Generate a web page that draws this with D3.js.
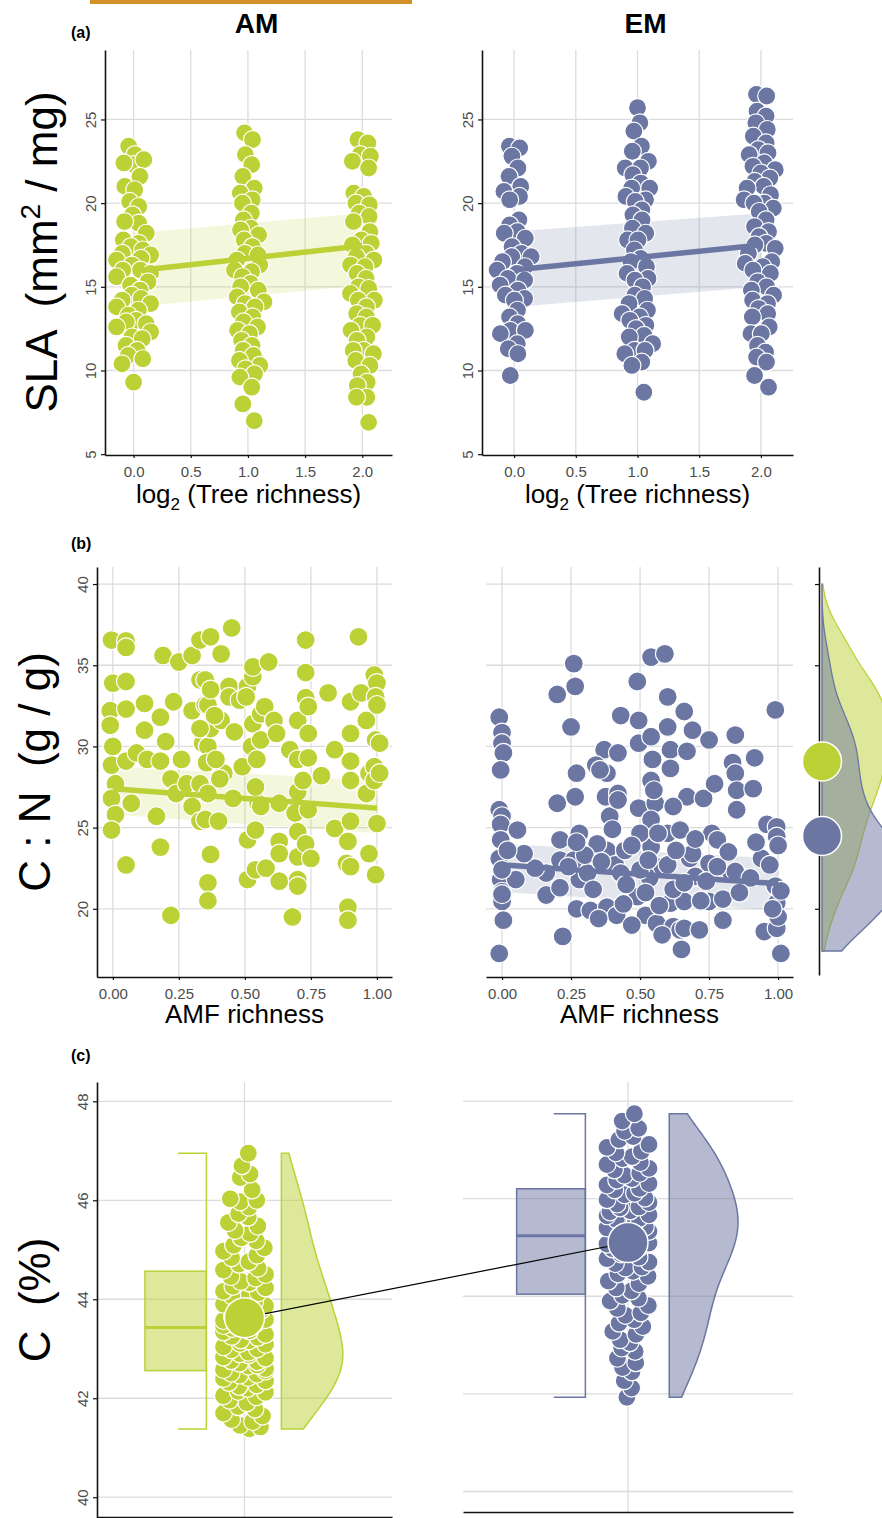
<!DOCTYPE html>
<html>
<head>
<meta charset="utf-8">
<title>AM / EM leaf traits</title>
<script src="https://cdn.jsdelivr.net/npm/d3@7"></script>
<style>
	body { margin: 0; background: #fff; }
	svg { display: block; font-family: 'Liberation Sans', Arial, sans-serif; }
</style>
</head>
<body>
<div id="chart"></div>
<script>
//	(a) SLA，按 log2(树种丰富度) 分三组
const richness = [0, 1, 2];
const slaAM = [
	[23.4, 22.9, 22.3, 22.6, 22.4, 21.6, 21.0, 20.8, 20.1, 19.8, 19.3, 18.8, 18.9, 18.2, 17.8, 17.6, 17.4, 17.2, 17.0, 16.9, 16.6, 16.7, 16.3, 16.0, 16.0, 15.8, 15.6, 15.3, 15.1, 14.8, 14.5, 14.3, 14.2, 14.0, 13.8, 13.6, 13.3, 13.0, 12.9, 12.8, 12.6, 12.3, 12.0, 11.9, 11.5, 11.2, 10.9, 10.7, 10.4, 9.3],
	[24.2, 23.8, 22.9, 22.3, 21.6, 20.9, 20.6, 20.2, 20.0, 19.4, 19.0, 18.5, 18.4, 18.1, 17.8, 17.4, 17.0, 16.9, 16.6, 16.3, 16.0, 15.9, 15.6, 15.2, 15.0, 14.8, 14.4, 14.1, 14.0, 13.8, 13.5, 13.2, 12.9, 12.6, 12.4, 12.2, 11.8, 11.5, 11.2, 10.9, 10.6, 10.3, 10.1, 9.8, 9.6, 9.0, 8.0, 7.0],
	[23.8, 23.6, 22.9, 22.8, 22.5, 22.1, 20.6, 20.4, 20.0, 19.9, 19.4, 19.2, 18.9, 18.3, 17.8, 17.6, 17.5, 17.0, 16.8, 16.6, 16.3, 16.2, 15.8, 15.5, 15.0, 14.9, 14.6, 14.2, 14.2, 13.8, 13.4, 13.2, 12.7, 12.7, 12.4, 12.0, 11.8, 11.2, 11.2, 11.0, 10.6, 10.3, 9.8, 9.3, 9.1, 8.4, 8.4, 6.9]
];
const slaEM = [
	[23.4, 23.3, 22.8, 22.1, 21.6, 21.0, 20.7, 20.4, 20.2, 19.0, 18.7, 18.3, 18.2, 17.9, 17.4, 17.0, 16.8, 16.8, 16.5, 16.2, 16.0, 15.8, 15.5, 15.4, 15.1, 14.8, 14.5, 14.3, 14.2, 13.6, 13.2, 12.8, 12.4, 12.4, 12.2, 11.6, 11.3, 11.0, 9.7],
	[25.7, 24.8, 24.3, 23.4, 23.1, 22.5, 22.1, 22.1, 21.7, 21.2, 20.9, 20.9, 20.4, 20.2, 20.1, 19.6, 19.3, 19.0, 18.5, 18.2, 17.8, 17.8, 17.2, 16.7, 16.5, 16.2, 15.8, 15.5, 15.4, 15.0, 14.5, 14.3, 14.0, 13.6, 13.4, 13.2, 13.0, 12.7, 12.5, 12.1, 12.0, 11.6, 11.2, 11.2, 11.0, 10.5, 10.3, 8.7],
	[26.5, 26.4, 25.5, 25.2, 24.8, 24.4, 24.0, 23.6, 23.2, 23.0, 22.9, 22.4, 22.2, 22.0, 21.8, 21.5, 21.3, 21.0, 20.9, 20.5, 20.2, 20.0, 20.0, 19.7, 19.5, 19.0, 18.6, 18.3, 18.0, 17.6, 17.5, 17.3, 17.0, 16.5, 16.4, 16.2, 16.0, 15.8, 15.3, 15.0, 14.8, 14.5, 14.2, 14.0, 13.7, 13.4, 13.2, 12.6, 12.2, 12.2, 11.5, 11.1, 10.8, 10.5, 9.7, 9.0]
];
//	模型预测线和置信带
const fitRich = [0, 2];
const slaFitAM = [15.95, 17.45];
const slaLoAM = [13.8, 15.1];
const slaHiAM = [18.2, 19.4];
const slaFitEM = [16.0, 17.5];
const slaLoEM = [13.8, 15.0];
const slaHiEM = [18.3, 19.4];

//	(b) C:N 对 AMF richness，[x, y]
const cnAM = [[-0.005, 36.55], [0.05, 36.5], [0.05, 36.1], [0.0, 33.9], [0.05, 34.0], [-0.01, 32.2], [0.05, 32.3], [-0.01, 31.3], [0.0, 30.0], [-0.005, 28.85], [0.05, 29.1], [0.01, 27.7], [-0.005, 26.8], [0.07, 26.5], [0.01, 25.8], [-0.005, 24.85], [0.05, 22.7], [0.09, 29.6], [0.12, 32.65], [0.12, 31.0], [0.13, 29.2], [0.165, 25.7], [0.18, 31.8], [0.19, 35.6], [0.2, 30.3], [0.18, 29.1], [0.18, 23.8], [0.22, 19.6], [0.23, 32.75], [0.22, 28.0], [0.24, 27.1], [0.25, 35.2], [0.26, 29.2], [0.28, 27.7], [0.3, 26.3], [0.3, 32.2], [0.3, 35.6], [0.33, 36.55], [0.37, 36.75], [0.33, 34.1], [0.35, 34.1], [0.35, 32.55], [0.36, 32.55], [0.34, 30.2], [0.36, 30.0], [0.355, 29.0], [0.33, 27.7], [0.36, 27.1], [0.33, 25.4], [0.35, 25.5], [0.4, 25.4], [0.37, 23.35], [0.36, 21.6], [0.36, 20.5], [0.37, 31.1], [0.37, 33.5], [0.41, 35.7], [0.41, 31.6], [0.42, 28.35], [0.44, 33.7], [0.44, 33.05], [0.45, 37.3], [0.46, 30.9], [0.48, 32.85], [0.49, 28.75], [0.51, 33.7], [0.51, 24.25], [0.51, 21.8], [0.525, 30.0], [0.53, 34.3], [0.53, 34.9], [0.54, 24.85], [0.55, 26.5], [0.54, 27.5], [0.53, 31.4], [0.545, 29.2], [0.56, 32.0], [0.54, 22.4], [0.58, 22.5], [0.575, 32.45], [0.56, 30.4], [0.56, 26.3], [0.59, 35.2], [0.61, 31.6], [0.63, 26.5], [0.63, 24.15], [0.63, 21.7], [0.63, 23.4], [0.67, 29.8], [0.68, 19.5], [0.7, 31.6], [0.7, 29.2], [0.7, 27.2], [0.69, 25.9], [0.7, 24.75], [0.7, 23.2], [0.7, 21.8], [0.7, 21.4], [0.72, 27.9], [0.73, 36.55], [0.73, 34.55], [0.73, 33.0], [0.74, 32.45], [0.74, 30.8], [0.74, 29.3], [0.73, 24.0], [0.74, 26.1], [0.75, 23.1], [0.79, 28.2], [0.815, 33.3], [0.84, 29.8], [0.84, 24.95], [0.885, 22.8], [0.89, 20.1], [0.89, 19.3], [0.9, 32.75], [0.9, 30.8], [0.9, 29.1], [0.9, 27.9], [0.9, 25.4], [0.89, 24.15], [0.9, 22.6], [0.93, 36.75], [0.94, 33.3], [0.96, 31.6], [0.97, 23.4], [0.96, 27.1], [0.97, 28.35], [0.99, 34.4], [1.0, 33.9], [0.995, 33.05], [1.0, 32.55], [0.995, 30.4], [1.01, 30.2], [0.99, 28.75], [0.99, 27.9], [1.01, 28.35], [1.0, 25.25], [0.995, 22.1], [0.385, 31.9], [0.33, 31.1], [0.39, 29.2], [0.405, 28.0], [0.455, 26.8], [0.505, 33.05], [0.62, 30.8]];
const cnEM = [[-0.01, 31.8], [0.0, 30.85], [0.0, 30.2], [0.005, 29.6], [-0.005, 28.55], [-0.01, 26.1], [0.0, 25.7], [-0.005, 25.2], [-0.005, 24.25], [-0.01, 23.1], [-0.005, 21.8], [0.0, 21.05], [0.0, 20.45], [0.005, 19.3], [-0.01, 17.25], [0.056, 24.85], [0.05, 21.8], [0.16, 22.2], [0.16, 20.85], [0.2, 33.2], [0.22, 18.3], [0.2, 26.5], [0.21, 24.25], [0.21, 23.0], [0.26, 35.1], [0.265, 33.7], [0.25, 31.2], [0.27, 28.35], [0.265, 26.9], [0.28, 24.65], [0.26, 23.0], [0.28, 21.8], [0.27, 20.0], [0.32, 19.9], [0.37, 29.8], [0.38, 28.35], [0.375, 26.9], [0.39, 25.7], [0.38, 23.6], [0.38, 20.1], [0.415, 19.6], [0.42, 29.6], [0.43, 31.9], [0.42, 27.1], [0.41, 22.7], [0.49, 34.0], [0.495, 31.6], [0.495, 30.2], [0.495, 26.2], [0.49, 20.75], [0.52, 19.6], [0.54, 35.5], [0.59, 35.7], [0.54, 30.6], [0.545, 29.2], [0.54, 27.9], [0.555, 26.5], [0.54, 25.5], [0.54, 23.8], [0.535, 21.9], [0.56, 19.1], [0.6, 33.05], [0.6, 31.2], [0.61, 29.8], [0.61, 28.65], [0.6, 24.65], [0.61, 20.35], [0.62, 18.9], [0.645, 18.7], [0.66, 32.15], [0.67, 29.7], [0.67, 26.9], [0.68, 23.1], [0.66, 20.45], [0.66, 18.8], [0.65, 17.5], [0.69, 31.0], [0.73, 26.8], [0.715, 18.7], [0.75, 30.4], [0.76, 24.65], [0.75, 20.45], [0.77, 27.7], [0.78, 24.25], [0.8, 19.3], [0.8, 20.6], [0.83, 22.2], [0.845, 30.7], [0.835, 29.0], [0.845, 28.35], [0.85, 27.3], [0.85, 26.1], [0.845, 22.3], [0.915, 29.3], [0.91, 27.4], [0.94, 23.1], [0.95, 18.6], [0.99, 32.25], [0.96, 25.2], [0.995, 25.05], [0.995, 24.45], [0.99, 21.4], [0.995, 20.35], [0.995, 18.8], [1.01, 17.25], [1.0, 19.5], [1.01, 21.1], [0.34, 28.85], [0.355, 28.55], [0.42, 26.7], [0.345, 24.0], [0.43, 22.2], [0.445, 23.6], [0.5, 24.65], [0.565, 24.65], [0.645, 24.85], [0.69, 23.4], [0.31, 22.2], [0.62, 26.3], [0.55, 27.3], [0.5, 22.4], [0.58, 22.6], [0.7, 22.0], [0.3, 23.3], [0.45, 21.5], [0.62, 21.2], [0.75, 22.8], [0.9, 21.9], [0.12, 22.5], [0.08, 23.4], [0.0, 22.4], [0.0, 20.9], [0.02, 23.6], [0.21, 21.3], [0.24, 22.6], [0.27, 24.1], [0.33, 21.2], [0.36, 22.9], [0.4, 24.9], [0.44, 20.3], [0.47, 23.9], [0.52, 21.0], [0.53, 23.0], [0.57, 20.2], [0.6, 22.7], [0.63, 23.6], [0.66, 21.6], [0.7, 24.3], [0.72, 20.5], [0.74, 21.7], [0.78, 22.6], [0.82, 23.5], [0.86, 21.0], [0.92, 24.1], [0.97, 22.7], [1.0, 23.9], [0.98, 20.0], [0.35, 19.4], [0.47, 19.0], [0.58, 18.4]];
const fitAmf = [0, 1];
const cnFitAM = [27.4, 26.2];
const cnLoAM = [25.8, 24.65];
const cnHiAM = [28.75, 27.9];
const cnFitEM = [22.7, 21.55];
const cnLoEM = [21.05, 19.9];
const cnHiEM = [24.0, 23.1];

//	(c) C (%)
const cAM = [41.38, 41.42, 41.45, 41.53, 41.57, 41.64, 41.7, 41.78, 41.83, 41.91, 41.96,
	42.03, 42.05, 42.12, 42.14, 42.2, 42.24, 42.27, 42.32, 42.35, 42.4, 42.42, 42.47, 42.49,
	42.51, 42.55, 42.58, 42.6, 42.65, 42.67, 42.71, 42.74, 42.76, 42.81, 42.83, 42.88, 42.9, 42.93, 42.98,
	43.0, 43.04, 43.09, 43.11, 43.16, 43.18, 43.23, 43.25, 43.29, 43.34, 43.36, 43.41, 43.45, 43.47,
	43.51, 43.57, 43.59, 43.65, 43.68, 43.72, 43.78, 43.81, 43.87, 43.9, 43.95, 43.99,
	44.04, 44.07, 44.13, 44.16, 44.23, 44.26, 44.33, 44.36, 44.43, 44.46,
	44.5, 44.59, 44.63, 44.71, 44.76, 44.84, 44.89, 44.97,
	45.04, 45.09, 45.18, 45.24, 45.33, 45.39, 45.48,
	45.55, 45.66, 45.73, 45.86, 45.97,
	46.0, 46.03, 46.21, 46.46,
	46.53, 46.7, 46.95];
const cEM = [41.93, 42.12, 42.27, 42.45,
	42.54, 42.64, 42.73, 42.87, 42.94,
	43.05, 43.11, 43.22, 43.28, 43.38, 43.45,
	43.52, 43.61, 43.66, 43.75, 43.81, 43.9, 43.96,
	44.02, 44.11, 44.17, 44.26, 44.31, 44.41, 44.46,
	44.51, 44.58, 44.6, 44.67, 44.7, 44.77, 44.8, 44.87, 44.9, 44.97,
	45.01, 45.07, 45.09, 45.15, 45.17, 45.23, 45.25, 45.31, 45.33, 45.4, 45.42, 45.48,
	45.51, 45.57, 45.59, 45.65, 45.67, 45.73, 45.75, 45.81, 45.83, 45.89, 45.92, 45.98,
	46.01, 46.08, 46.11, 46.18, 46.21, 46.28, 46.31, 46.38, 46.41, 46.48,
	46.52, 46.59, 46.62, 46.7, 46.74, 46.82, 46.86, 46.94, 46.97,
	47.05, 47.11, 47.21, 47.27, 47.38, 47.44,
	47.59, 47.74];

const COL = { AM: '#bbd136', EM: '#6b76a2' };
const GRID = '#dcdcdc';
const TICK_TEXT = '#4d4d4d';

const svg = d3.select('#chart').append('svg')
	.attr('width', 882)
	.attr('height', 1518);

//	网格线
const drawGrid = (g, x, y, xTicks, yTicks) => {
	const [x0, x1] = x.range();
	const [y0, y1] = y.range();
	g.append('g').selectAll('line')
		.data(xTicks)
		.enter()
		.append('line')
		.attr('x1', d => x(d)).attr('x2', d => x(d))
		.attr('y1', y0).attr('y2', y1)
		.attr('stroke', GRID).attr('stroke-width', 1.3);
	g.append('g').selectAll('line')
		.data(yTicks)
		.enter()
		.append('line')
		.attr('x1', x0).attr('x2', x1)
		.attr('y1', d => y(d)).attr('y2', d => y(d))
		.attr('stroke', GRID).attr('stroke-width', 1.3);
};

const styleAxis = (ax) => {
	ax.attr('font-size', 15).attr('font-family', null);
	ax.select('.domain').attr('stroke', '#111').attr('stroke-width', 1.6);
	ax.selectAll('.tick line').attr('stroke', '#111').attr('stroke-width', 1.2);
	ax.selectAll('.tick text').attr('fill', TICK_TEXT);
};

//	左侧 y 轴，刻度文字竖排
const drawAxisLeft = (g, x0, y, ticks, withText) => {
	const ax = g.append('g')
		.attr('transform', `translate(${x0},0)`)
		.call(d3.axisLeft(y).tickValues(ticks).tickSizeInner(4).tickSizeOuter(0)
			.tickFormat(withText ? d3.format('d') : ''));
	styleAxis(ax);
	ax.selectAll('.tick text')
		.attr('x', 0).attr('y', -9).attr('dy', 0)
		.attr('transform', 'rotate(-90)')
		.style('text-anchor', 'middle');
};

const drawAxisBottom = (g, y0, x, ticks, fmt) => {
	const ax = g.append('g')
		.attr('transform', `translate(0,${y0})`)
		.call(d3.axisBottom(x).tickValues(ticks).tickSizeInner(3).tickSizeOuter(0).tickPadding(8)
			.tickFormat(fmt ? d3.format(fmt) : ''));
	styleAxis(ax);
};

//	置信带
const drawBand = (g, x, y, xs, lo, hi, color) => {
	g.append('path')
		.datum(xs.map((v, i) => ({ x: v, lo: lo[i], hi: hi[i] })))
		.attr('d', d3.area().x(d => x(d.x)).y0(d => y(d.lo)).y1(d => y(d.hi)))
		.attr('fill', color)
		.attr('fill-opacity', 0.18);
};

//	拟合线
const drawFitLine = (g, x, y, xs, fit, color) => {
	g.append('path')
		.datum(xs.map((v, i) => ({ x: v, fit: fit[i] })))
		.attr('d', d3.line().x(d => x(d.x)).y(d => y(d.fit)))
		.attr('stroke', color)
		.attr('stroke-width', 5.5)
		.attr('fill', 'none');
};

const drawDots = (g, nodes, color, r) => {
	g.append('g').selectAll('circle')
		.data(nodes)
		.enter()
		.append('circle')
		.attr('cx', d => d.cx)
		.attr('cy', d => d.cy)
		.attr('r', r)
		.attr('fill', color)
		.attr('stroke', '#fff')
		.attr('stroke-width', 1.2);
};

//	用力导向布局在一列中把点散开（代替随机抖动）
const jitter = (values, y, cx, spread, rc) => {
	const nodes = values.map((v, i) => ({ v, x: cx + (i % 2 ? 1 : -1) * (i % 7) * 2.4, y: y(v) }));
	const sim = d3.forceSimulation(nodes)
		.force('x', d3.forceX(cx).strength(0.01))
		.force('y', d3.forceY(d => y(d.v)).strength(0.9))
		.force('c', d3.forceCollide(rc))
		.stop();
	for (let i = 0; i < 160; i++) {
		sim.tick();
		nodes.forEach(d => { d.x = Math.max(cx - spread, Math.min(cx + spread, d.x)); });
	}
	return nodes.map(d => ({ cx: d.x, cy: y(d.v) }));
};

//	高斯核密度（bw.nrd0）
const kde = (values, grid) => {
	const n = values.length;
	const sd = d3.deviation(values);
	const iqr = d3.quantile(values, 0.75) - d3.quantile(values, 0.25);
	const bw = 0.9 * Math.min(sd, iqr / 1.34) * Math.pow(n, -0.2);
	return grid.map(t => [t, d3.mean(values, v => Math.exp(-0.5 * ((t - v) / bw) ** 2)) / (bw * Math.sqrt(2 * Math.PI))]);
};

const label = (x, y, txt, size, weight, anchor) => svg.append('text')
	.attr('x', x).attr('y', y)
	.attr('font-size', size)
	.attr('font-weight', weight || 'normal')
	.attr('text-anchor', anchor || 'middle')
	.text(txt);

//	竖排的大号 y 轴标题
const yTitle = (x, y) => svg.append('text')
	.attr('transform', `translate(${x},${y}) rotate(-90)`)
	.attr('text-anchor', 'middle')
	.attr('font-size', 44)
	.style('white-space', 'pre');

//	顶部色条
svg.append('rect').attr('x', 90).attr('y', 0).attr('width', 322).attr('height', 4).attr('fill', '#d3912a');

// ---------- (a) ----------
const yA = d3.scaleLinear().domain([4.95, 29.15]).range([455, 50]);
const panelsA = [
	{ key: 'AM', x: d3.scaleLinear().domain([-0.25, 2.26]).range([105, 392]), sla: slaAM, fit: slaFitAM, lo: slaLoAM, hi: slaHiAM },
	{ key: 'EM', x: d3.scaleLinear().domain([-0.26, 2.26]).range([482, 793]), sla: slaEM, fit: slaFitEM, lo: slaLoEM, hi: slaHiEM }
];
panelsA.forEach(p => {
	const g = svg.append('g');
	drawGrid(g, p.x, yA, [0, 0.5, 1, 1.5, 2], [10, 15, 20, 25]);
	drawBand(g, p.x, yA, fitRich, p.lo, p.hi, COL[p.key]);
	richness.forEach((r, i) => drawDots(g, jitter(p.sla[i], yA, p.x(r), 17, 5.2), COL[p.key], 9));
	drawFitLine(g, p.x, yA, fitRich, p.fit, COL[p.key]);
	drawAxisLeft(g, p.x.range()[0], yA, [5, 10, 15, 20, 25], true);
	drawAxisBottom(g, 455, p.x, [0, 0.5, 1, 1.5, 2], '.1f');
	const mid = d3.mean(p.x.range());
	label(mid + 8, 33, p.key, 28, 'bold');
	const t = svg.append('text').attr('x', mid).attr('y', 503).attr('font-size', 26).attr('text-anchor', 'middle');
	t.append('tspan').text('log');
	t.append('tspan').attr('font-size', 17).attr('dy', 7).text('2');
	t.append('tspan').attr('dy', -7).text(' (Tree richness)');
});
label(71, 38, '(a)', 16, 'bold', 'start');
const ta = yTitle(57, 252);
ta.append('tspan').text('SLA  (mm');
ta.append('tspan').attr('font-size', 28).attr('dy', -17).text('2');
ta.append('tspan').attr('dy', 17).text(' / mg)');

// ---------- (b) ----------
const yB = d3.scaleLinear().domain([15.8, 41.05]).range([977, 567]);
const panelsB = [
	{ key: 'AM', x: d3.scaleLinear().domain([-0.06, 1.057]).range([97, 392]), pts: cnAM, fit: cnFitAM, lo: cnLoAM, hi: cnHiAM, axis: true },
	{ key: 'EM', x: d3.scaleLinear().domain([-0.058, 1.054]).range([486, 793]), pts: cnEM, fit: cnFitEM, lo: cnLoEM, hi: cnHiEM, axis: false }
];
panelsB.forEach(p => {
	const g = svg.append('g');
	drawGrid(g, p.x, yB, [0, 0.25, 0.5, 0.75, 1], [20, 25, 30, 35, 40]);
	drawBand(g, p.x, yB, fitAmf, p.lo, p.hi, COL[p.key]);
	drawDots(g, p.pts.map(d => ({ cx: p.x(d[0]), cy: yB(d[1]) })), COL[p.key], 9.5);
	drawFitLine(g, p.x, yB, fitAmf, p.fit, COL[p.key]);
	if (p.axis) drawAxisLeft(g, 97, yB, [20, 25, 30, 35, 40], true);
	drawAxisBottom(g, 977, p.x, [0, 0.25, 0.5, 0.75, 1], '.2f');
	label(d3.mean(p.x.range()), 1023, 'AMF richness', 26);
});
label(71, 549, '(b)', 16, 'bold', 'start');
const tb = yTitle(50, 772);
tb.append('tspan').text('C : N  (g / g)');

//	边缘密度
const margin = svg.append('g');
const densGrid = d3.range(17.4, 40.001, 0.2);
const baseX = 822;
const densW = d3.scaleLinear().domain([0, 0.1]).range([baseX, baseX + 82]);
[['AM', cnAM], ['EM', cnEM]].forEach(([key, pts]) => {
	margin.append('path')
		.datum(kde(pts.map(d => d[1]), densGrid))
		.attr('d', d3.area().x0(baseX).x1(d => densW(d[1])).y(d => yB(d[0])).curve(d3.curveBasis))
		.attr('fill', COL[key]).attr('fill-opacity', 0.5)
		.attr('stroke', COL[key]).attr('stroke-width', 1.3);
});
drawAxisLeft(margin, 819, yB.copy().range([975, 567]).domain([15.8 + 0.123, 41.05]), [20, 25, 30, 35, 40], false);
[['AM', cnAM], ['EM', cnEM]].forEach(([key, pts]) => {
	margin.append('circle')
		.attr('cx', baseX)
		.attr('cy', yB(d3.mean(pts, d => d[1])))
		.attr('r', 19.5)
		.attr('fill', COL[key])
		.attr('stroke', '#fff').attr('stroke-width', 1.5);
});

// ---------- (c) ----------
const panelsC = [
	{ key: 'AM', vals: cAM, x: d3.scaleLinear().domain([0.4, 1.6]).range([97, 392]), y: d3.scaleLinear().domain([39.58, 48.39]).range([1518, 1082]), base: 1517 },
	{ key: 'EM', vals: cEM, x: d3.scaleLinear().domain([0.4, 1.6]).range([463, 793]), y: d3.scaleLinear().domain([39.58, 48.39]).range([1512, 1082]), base: 1512 }
];
const means = [];
panelsC.forEach((p, i) => {
	const g = svg.append('g');
	const { x, y } = p;
	const col = COL[p.key];
	drawGrid(g, x, y, [1], [40, 42, 44, 46, 48]);
	const sorted = p.vals.slice().sort(d3.ascending);
	const q1 = d3.quantile(sorted, 0.25), med = d3.quantile(sorted, 0.5), q3 = d3.quantile(sorted, 0.75);
	const lo = d3.min(sorted), hi = d3.max(sorted);
	//	箱体与须
	g.append('rect')
		.attr('x', x(1 - 0.405)).attr('width', x(1 - 0.155) - x(1 - 0.405))
		.attr('y', y(q3)).attr('height', y(q1) - y(q3))
		.attr('fill', col).attr('fill-opacity', 0.5)
		.attr('stroke', col).attr('stroke-width', 1.5);
	g.append('line')
		.attr('x1', x(1 - 0.405)).attr('x2', x(1 - 0.155))
		.attr('y1', y(med)).attr('y2', y(med))
		.attr('stroke', col).attr('stroke-width', 3);
	g.append('path')
		.attr('d', `M${x(1 - 0.27)},${y(hi)}H${x(1 - 0.155)}V${y(lo)}H${x(1 - 0.27)}`)
		.attr('fill', 'none').attr('stroke', col).attr('stroke-width', 1.5);
	//	半边小提琴
	const grid = d3.range(lo, hi, 0.04).concat([hi]);
	const dens = kde(sorted, grid);
	const w = d3.scaleLinear().domain([0, d3.max(dens, d => d[1])]).range([x(1.15), x(1.4)]);
	g.append('path')
		.datum(dens)
		.attr('d', d3.area().x0(x(1.15)).x1(d => w(d[1])).y(d => y(d[0])))
		.attr('fill', col).attr('fill-opacity', 0.5)
		.attr('stroke', col).attr('stroke-width', 1.5);
	drawDots(g, jitter(p.vals, y, x(1), 21, 5.2), col, 9);
	if (i === 0) drawAxisLeft(g, 97, y, [40, 42, 44, 46, 48], true);
	drawAxisBottom(g, p.base, x, [], null);
	means.push({ key: p.key, cx: x(1), cy: y(d3.mean(p.vals)) });
});
//	两组均值连线
svg.append('line')
	.attr('x1', means[0].cx).attr('y1', means[0].cy)
	.attr('x2', means[1].cx).attr('y2', means[1].cy)
	.attr('stroke', '#000').attr('stroke-width', 1.2);
svg.append('g').selectAll('circle')
	.data(means)
	.enter()
	.append('circle')
	.attr('cx', d => d.cx).attr('cy', d => d.cy).attr('r', 20)
	.attr('fill', d => COL[d.key])
	.attr('stroke', '#fff').attr('stroke-width', 1.5);
label(71, 1061, '(c)', 16, 'bold', 'start');
const tc = yTitle(50, 1300);
tc.append('tspan').text('C  (%)');
</script>
</body>
</html>
